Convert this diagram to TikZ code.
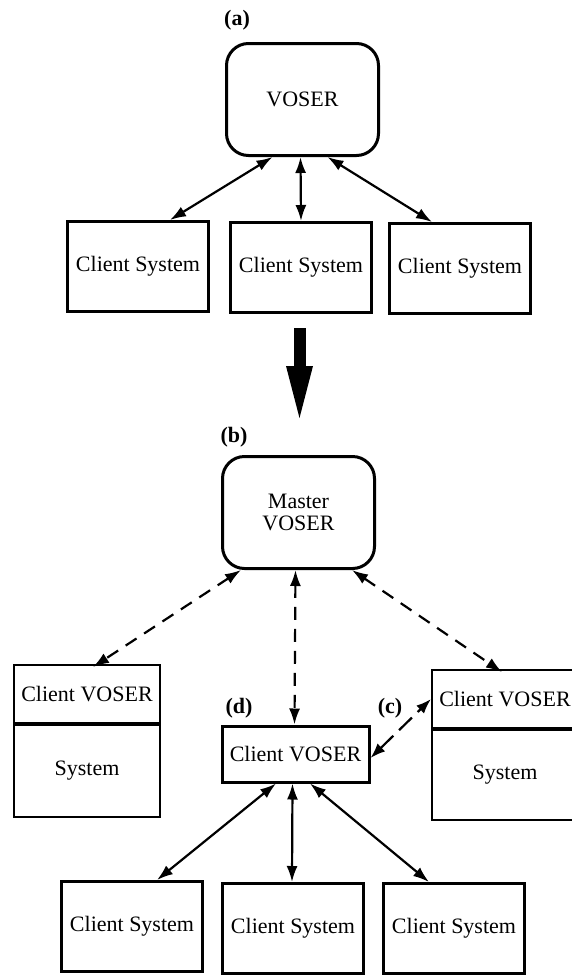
\documentclass[tikz,border=0pt]{standalone}
\usepackage{fontspec}
\setmainfont{Liberation Serif}
\usetikzlibrary{arrows.meta}
\begin{document}
\begin{tikzpicture}[x=1pt,y=-1pt,
  every node/.style={font=\fontsize{22}{26}\selectfont, inner sep=0pt},
  server/.style={draw, line width=3pt, rounded corners=22pt, minimum width=152pt, minimum height=112pt, align=center},
  client/.style={draw, line width=3pt, minimum width=141pt, minimum height=90pt},
  part/.style={draw, line width=2pt},
  tag/.style={font=\fontsize{22}{26}\selectfont\bfseries},
  link/.style={line width=2.2pt, {Latex[length=16pt,width=11pt]}-{Latex[length=16pt,width=11pt]}},
  dlink/.style={link, dash pattern=on 13pt off 9pt}
]
\useasboundingbox (0,0) rectangle (572,975);

% ---- (a) single server with its clients
\node[tag] (la) at (237,20) {(a)};
\node[server] (vo) at (302.5,99.5) {VOSER};
\node[client] (a1) at (138,266.5) {Client System};
\node[client] (a2) at (301,267.5) {Client System};
\node[client] (a3) at (460,268.5) {Client System};
\draw[link] ([xshift=-30pt]vo.south) -- ([xshift=32pt]a1.north);
\draw[link] ([xshift=-2pt]vo.south) -- (a2.north);
\draw[link] ([xshift=25pt]vo.south) -- ([xshift=-28pt]a3.north);

% ---- transition arrow
\fill (294,328) rectangle (306,368);
\fill (286,366) -- (313,366) -- (299.5,418) -- cycle;

% ---- (b) hierarchy of servers
\node[tag] (lb) at (234,437) {(b)};
\node[server] (mv) at (298.5,512.5) {Master\\[-4pt]VOSER};

% left client server
\node[part, minimum width=146pt, minimum height=58pt] (lcv) at (87,694) {Client VOSER};
\node[part, minimum width=146pt, minimum height=92pt, anchor=north] (lsy) at (lcv.south) {System};

% right client server (runs past the right margin)
\node[part, minimum width=146pt, minimum height=58pt] (rcv) at (505,699) {Client VOSER};
\node[part, minimum width=146pt, minimum height=90pt, anchor=north] (rsy) at (rcv.south) {System};

% (d) client server with its clients
\node[draw, line width=3pt, minimum width=147pt, minimum height=56pt] (cv) at (295.5,754) {Client VOSER};
\node[tag] (ld) at (239,708) {(d)};
\node[tag] (lc) at (390,708) {(c)};

\node[client] (b1) at (132,926.5) {Client System};
\node[client] (b2) at (293,928.5) {Client System};
\node[client] (b3) at (454,928.5) {Client System};

\draw[dlink] ([xshift=-57.5pt]mv.south) -- ([xshift=6pt,yshift=-3pt]lcv.north);
\draw[dlink] ([xshift=-3pt]mv.south) -- ([xshift=-1pt]cv.north);
\draw[dlink] ([xshift=53.5pt]mv.south) -- ([xshift=-3pt,yshift=-3pt]rcv.north);
\draw[line width=2.2pt, {Latex[length=15pt,width=11pt]}-{Latex[length=15pt,width=11pt]}, dash pattern=on 18pt off 8pt]
  ([yshift=-4pt]cv.east) -- (rcv.west);

\draw[link] ([xshift=-19.5pt]cv.south) -- ([xshift=25pt]b1.north);
\draw[link] ([xshift=-3pt]cv.south) -- ([xshift=-1pt]b2.north);
\draw[link] ([xshift=14.5pt]cv.south) -- ([xshift=-25pt]b3.north);
\end{tikzpicture}
\end{document}
